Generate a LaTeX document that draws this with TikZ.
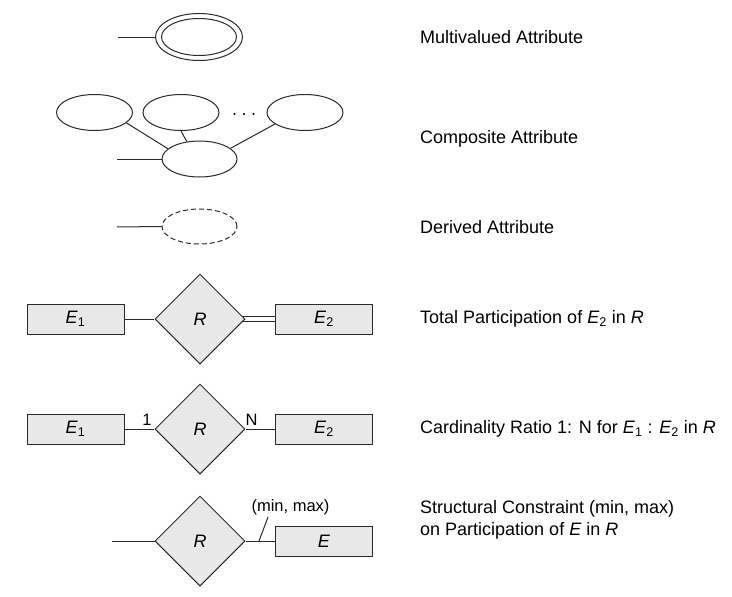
\documentclass[tikz,border=0pt]{standalone}
\usepackage{fontspec}
\setmainfont{Liberation Sans}
\usetikzlibrary{shapes.geometric,backgrounds}
\definecolor{lc}{HTML}{2A2A2A}
\definecolor{fc}{HTML}{E8E8E8}
\newcommand{\descfont}{\fontsize{18}{21.7}\selectfont}
\newcommand{\labfont}{\fontsize{16.5}{20}\selectfont}
\newcommand{\boxfont}{\fontsize{18}{21}\selectfont}
\tikzset{
  ln/.style={draw=lc, line width=1pt},
  attr/.style={ellipse, ln, inner sep=0pt},
  ent/.style={rectangle, ln, fill=fc, minimum width=97pt, minimum height=30pt, inner sep=0pt, font=\boxfont},
  rel/.style={diamond, ln, fill=fc, minimum width=90pt, minimum height=90pt, inner sep=0pt, aspect=1, font=\boxfont},
  desc/.style={anchor=base west, font=\descfont, inner sep=0pt, align=left},
  card/.style={font=\labfont, inner sep=0pt, anchor=base}
}
\begin{document}
\begin{tikzpicture}[x=1pt,y=-1pt]
\useasboundingbox (0,0) rectangle (732,597);

% Row 1: multivalued
\node[attr, minimum width=87pt, minimum height=47pt] (mvo) at (199,37) {};
\node[attr, minimum width=75pt, minimum height=37pt] (mvi) at (199,37) {};
\coordinate (mvl) at (118,37);
\draw[ln] (mvl) -- (mvo.west);
\node[desc] (t1) at (420,43.3) {Multivalued Attribute};

% Row 2: composite
\node[attr, minimum width=76pt, minimum height=36pt] (ca1) at (94.5,112.5) {};
\node[attr, minimum width=76pt, minimum height=36pt] (ca2) at (181,112.5) {};
\node[attr, minimum width=76pt, minimum height=36pt] (ca3) at (305,112.5) {};
\node[attr, minimum width=75pt, minimum height=36pt] (cab) at (199.5,159) {};
\node[font=\descfont, inner sep=0pt, anchor=base] (cdots) at (244,115) {.\hspace{4.5pt}.\hspace{4.5pt}.};
\coordinate (cal) at (117,159);
\draw[ln] (cal) -- (cab.west);
\draw[ln] (ca1.-18) -- (cab.162);
\draw[ln] (ca2.-90) -- (cab.126);
\draw[ln] (ca3.-159) -- (cab.19);
\node[desc] (t2) at (420,143.3) {Composite Attribute};

% Row 3: derived
\node[attr, dashed, dash pattern=on 5pt off 3pt, minimum width=75pt, minimum height=35pt] (da) at (199.5,226.5) {};
\coordinate (dal) at (117,227);
\draw[ln] (dal) -- (da.west);
\node[desc] (t3) at (420,233.3) {Derived Attribute};

% Row 4: total participation
\node[ent] (e1a) at (75.5,319) {\textit{E}\textsubscript{1}};
\node[rel] (ra) at (200,319) {\textit{R}};
\node[ent] (e2a) at (324,319) {\textit{E}\textsubscript{2}};
\draw[ln] (e1a) -- (ra);
\begin{scope}[on background layer]
  \draw[ln, double=white, double distance=4.6pt] ([xshift=-4pt]ra.east) -- (e2a.west);
\end{scope}
\node[desc] (t4) at (420,323.3) {Total Participation of \textit{E}\textsubscript{2} in \textit{R}};

% Row 5: cardinality
\node[ent] (e1b) at (75.5,429) {\textit{E}\textsubscript{1}};
\node[rel] (rb) at (200,429) {\textit{R}};
\node[ent] (e2b) at (324,429) {\textit{E}\textsubscript{2}};
\draw[ln] (e1b) -- (rb);
\draw[ln] (rb) -- (e2b);
\node[card] (c1) at (147,425) {1};
\node[card] (cn) at (251.5,425) {N};
\node[desc] (t5) at (420,433.3) {Cardinality Ratio 1: N for \textit{E}\textsubscript{1} : \textit{E}\textsubscript{2} in \textit{R}};

% Row 6: structural constraint
\node[rel] (rc) at (200,541) {\textit{R}};
\node[ent] (ec) at (324,541) {\textit{E}};
\coordinate (rcl) at (112,541);
\draw[ln] (rcl) -- (rc);
\draw[ln] (rc) -- (ec);
\coordinate (tk) at (259,541);
\coordinate (tk2) at (268,517);
\draw[ln] (tk) -- (tk2);
\node[card] (mm) at (290.5,511.7) {(min, max)};
\node[desc] (t6) at (420,535) {Structural Constraint (min, max)\\on Participation of \textit{E} in \textit{R}};

\end{tikzpicture}
\end{document}
